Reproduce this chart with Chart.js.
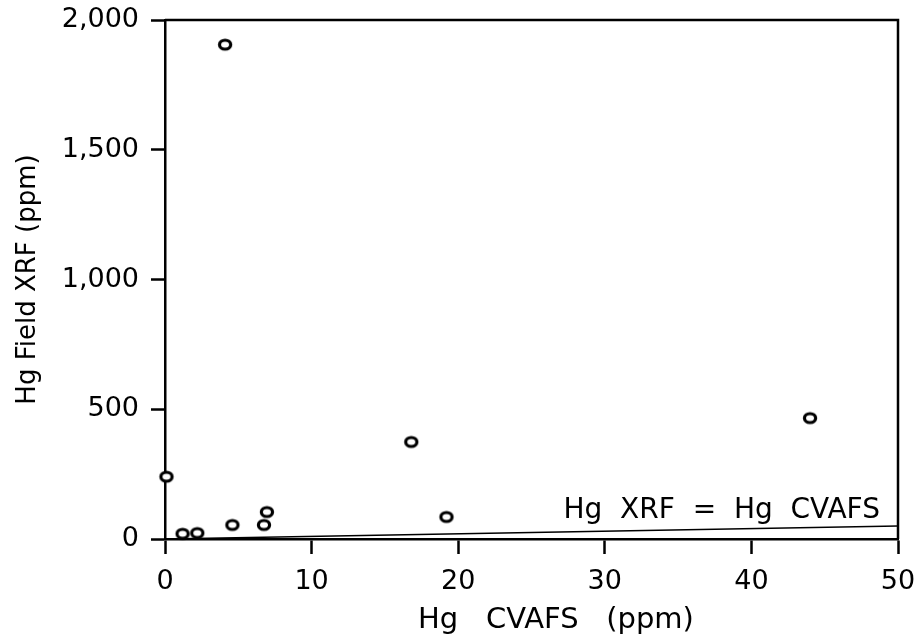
<!DOCTYPE html>
<html>
<head>
<meta charset="utf-8">
<script src="https://cdn.jsdelivr.net/npm/chart.js@4"></script>
<style>
  html, body { margin: 0; padding: 0; background: #fff; }
</style>
</head>
<body>
<canvas id="hgChart" width="917" height="634"></canvas>
<script>
// Hg CVAFS (ppm) vs Hg Field XRF (ppm)
const cvafsValues = [4.1, 0.1, 1.2, 2.2, 4.6, 6.75, 6.95, 16.8, 19.2, 44.0];
const xrfValues = [1905, 240, 20, 23, 54, 54, 104, 374, 85, 466];
// 1:1 reference line
const lineX = [0, 50];
const lineY = [0, 50];
const xTicks = [0, 10, 20, 30, 40, 50];
const yTicks = [0, 500, 1000, 1500, 2000];

const FONT = "DejaVu Sans";

// open ellipse marker
function makeMarker() {
  const c = document.createElement("canvas");
  c.width = 20;
  c.height = 17;
  const g = c.getContext("2d");
  g.beginPath();
  g.ellipse(10, 8.5, 5.6, 4.5, 0, 0, Math.PI * 2);
  g.fillStyle = "#fff";
  g.fill();
  g.lineWidth = 3.2;
  g.strokeStyle = "#000";
  g.stroke();
  return c;
}

const framePlugin = {
  id: "frame",
  afterDraw(chart) {
    const { ctx, chartArea } = chart;
    ctx.save();
    ctx.strokeStyle = "#000";
    ctx.lineWidth = 2.5;
    ctx.beginPath();
    ctx.moveTo(chartArea.left, chartArea.top);
    ctx.lineTo(chartArea.right, chartArea.top);
    ctx.lineTo(chartArea.right, chartArea.bottom);
    ctx.stroke();

    ctx.fillStyle = "#000";
    ctx.textBaseline = "alphabetic";
    ctx.font = "28px '" + FONT + "'";
    ctx.textAlign = "right";
    ctx.fillText("Hg  XRF  =  Hg  CVAFS", 880, 518);

    ctx.font = "29px '" + FONT + "'";
    ctx.textAlign = "center";
    ctx.fillText("Hg   CVAFS   (ppm)", 556, 628);
    ctx.restore();
  }
};

const ctx = document.getElementById("hgChart").getContext("2d");
new Chart(ctx, {
  type: "scatter",
  data: {
    datasets: [
      {
        label: "Samples",
        data: cvafsValues.map((v, i) => ({ x: v, y: xrfValues[i] })),
        pointStyle: makeMarker(),
        pointRadius: 6,
        clip: false
      },
      {
        type: "line",
        label: "Hg XRF = Hg CVAFS",
        data: lineX.map((v, i) => ({ x: v, y: lineY[i] })),
        borderColor: "#000",
        borderWidth: 1.5,
        pointRadius: 0,
        fill: false
      }
    ]
  },
  options: {
    responsive: false,
    animation: false,
    devicePixelRatio: 1,
    layout: { padding: { top: 20, right: 19, left: 0, bottom: 0 } },
    plugins: {
      legend: { display: false },
      tooltip: { enabled: false }
    },
    scales: {
      x: {
        type: "linear",
        min: 0,
        max: 50,
        afterFit: (s) => {
          s.height = 95;
          s.paddingLeft = 0;
          s.paddingRight = 0;
        },
        afterBuildTicks: (s) => { s.ticks = xTicks.map(v => ({ value: v })); },
        border: { color: "#000", width: 2.5 },
        grid: {
          drawOnChartArea: false,
          drawTicks: true,
          tickLength: 15,
          tickWidth: 2.5,
          tickColor: "#000"
        },
        ticks: {
          color: "#000",
          padding: 12,
          maxRotation: 0,
          font: { family: FONT, size: 27 }
        }
      },
      y: {
        min: 0,
        max: 2000,
        afterFit: (s) => {
          s.width = 165;
          s.paddingTop = 0;
          s.paddingBottom = 0;
        },
        afterBuildTicks: (s) => { s.ticks = yTicks.map(v => ({ value: v })); },
        border: { color: "#000", width: 2.5 },
        grid: {
          drawOnChartArea: false,
          drawTicks: true,
          tickLength: 14,
          tickWidth: 2.5,
          tickColor: "#000"
        },
        ticks: {
          color: "#000",
          padding: 12,
          font: { family: FONT, size: 27 },
          callback: (v) => v.toLocaleString("en-US")
        },
        title: {
          display: true,
          text: "Hg Field XRF (ppm)",
          color: "#000",
          padding: { top: 13, bottom: 0 },
          font: { family: FONT, size: 26 }
        }
      }
    }
  },
  plugins: [framePlugin]
});
</script>
</body>
</html>
